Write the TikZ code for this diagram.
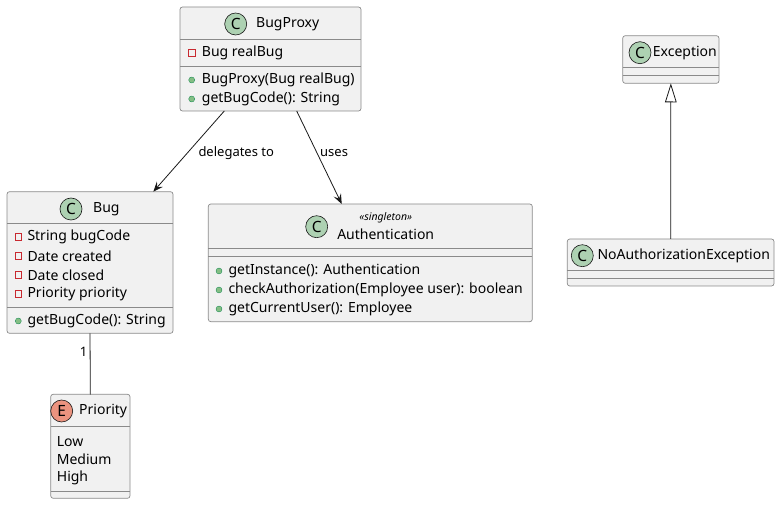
\documentclass[tikz,border=0pt]{standalone}
\usepackage{fontspec}
\setmainfont{Noto Sans}
\usetikzlibrary{arrows.meta}
\definecolor{boxfill}{HTML}{F1F1F1}
\definecolor{boxline}{HTML}{181818}
\definecolor{sepgray}{HTML}{8A8A8A}
\definecolor{classicon}{HTML}{ADD1B2}
\definecolor{enumicon}{HTML}{EB937F}
\definecolor{privred}{HTML}{C82930}
\definecolor{pubgreen}{HTML}{84BE84}
\definecolor{publine}{HTML}{038048}
\tikzset{
	classbox/.style={draw=sepgray, fill=boxfill, line width=0.7pt, rounded corners=2.5pt, inner sep=0pt, outer sep=0pt},
	icon/.style={circle, draw=boxline, line width=0.6pt, minimum size=22pt, inner sep=0pt, font=\bfseries\fontsize{15.5}{15.5}\selectfont},
	title/.style={inner sep=0pt, font=\fontsize{14}{16}\selectfont},
	member/.style={anchor=west, inner sep=0pt, font=\fontsize{14}{16}\selectfont},
	privmark/.style={rectangle, draw=privred, line width=0.6pt, minimum size=6.5pt, inner sep=0pt},
	pubmark/.style={circle, draw=publine, fill=pubgreen, line width=0.3pt, minimum size=6pt, inner sep=0pt},
	edgelabel/.style={inner sep=0pt, font=\fontsize{13}{15}\selectfont},
	link/.style={draw=boxline, line width=0.8pt}
}
\newcommand*{\classBox}[5]{ %name; left, top, right, bottom
	\node[classbox, minimum width={#4-#2}, minimum height={#5-#3}] (#1) at ({(#2+#4)/2},{(#3+#5)/2}) {};
}
\newcommand*{\sepLine}[2]{ %box, y
	\draw[sepgray, line width=0.7pt] (#1.west |- 0,#2) -- (#1.east |- 0,#2);
}

\begin{document}
\begin{tikzpicture}[x=1pt,y=-1pt]
		\useasboundingbox (0,0) rectangle (780,505);
		
		% the boxes
		\classBox{bugproxy}{180}{7}{361}{111}
		\classBox{bug}{7}{191.7}{173}{333.3}
		\classBox{priority}{50.7}{394.3}{130}{498.3}
		\classBox{auth}{208.3}{204}{532.3}{321.7}
		\classBox{exception}{622.7}{35.7}{719}{83.3}
		\classBox{noauth}{567.3}{239}{774}{286}
		
		\sepLine{bugproxy}{39} \sepLine{bugproxy}{66}
		\sepLine{bug}{223.3} \sepLine{bug}{307.3}
		\sepLine{priority}{426.7} \sepLine{priority}{491}
		\sepLine{auth}{248.3} \sepLine{auth}{256}
		\sepLine{exception}{67.3} \sepLine{exception}{75}
		\sepLine{noauth}{270.7} \sepLine{noauth}{278.3}
		
		% headers
		\node[icon, fill=classicon] (bugproxyicon) at (235.7,24) {C};
		\node[title, anchor=west] (bugproxytitle) at (256,24) {BugProxy};
		\node[icon, fill=classicon] (bugicon) at (71,209) {C};
		\node[title, anchor=west] (bugtitle) at (93,209) {Bug};
		\node[icon, fill=enumicon] (priorityicon) at (61.7,411) {E};
		\node[title, anchor=west] (prioritytitle) at (79,411) {Priority};
		\node[icon, fill=classicon] (authicon) at (316.7,226.7) {C};
		\node[title, font=\itshape\fontsize{10.5}{12}\selectfont] (authstereo) at (385.7,217.7) {«singleton»};
		\node[title] (authtitle) at (385.7,234.3) {Authentication};
		\node[icon, fill=classicon] (exceptionicon) at (640,52.7) {C};
		\node[title, anchor=west] (exceptiontitle) at (652.7,52.7) {Exception};
		\node[icon, fill=classicon] (noauthicon) at (582.3,255.7) {C};
		\node[title, anchor=west] (noauthtitle) at (597.3,255.7) {NoAuthorizationException};
		
		% members
		\node[privmark] (bugproxyp1) at (191.7,52.7) {};
		\node[member] (bugproxym1) at (201.7,52.7) {Bug realBug};
		\foreach \n/\y/\texto in {2/80/{BugProxy(Bug realBug)},3/99/{getBugCode(): String}}
		{
			\node[pubmark] (bugproxyp\n) at (191.7,\y) {};
			\node[member] (bugproxym\n) at (201.7,\y) {\texto};
		}
		\foreach \n/\y/\texto in {1/236.7/{String bugCode},2/256/{Date created},3/275/{Date closed},4/294/{Priority priority}}
		{
			\node[privmark] (bugp\n) at (18.3,\y) {};
			\node[member] (bugm\n) at (27.3,\y) {\texto};
		}
		\node[pubmark] (bugp5) at (18.3,321) {};
		\node[member] (bugm5) at (27.3,321) {getBugCode(): String};
		\foreach \n/\y/\texto in {1/271/{getInstance(): Authentication},2/290/{checkAuthorization(Employee user): boolean},3/309/{getCurrentUser(): Employee}}
		{
			\node[pubmark] (authp\n) at (219,\y) {};
			\node[member] (authm\n) at (228.3,\y) {\texto};
		}
		\foreach \n/\y/\texto in {1/441.7/Low,2/459.3/Medium,3/478.3/High}
		{
			\node[member] (prioritym\n) at (56.7,\y) {\texto};
		}
		
		% connectors
		\draw[link, -{Stealth[length=10pt,width=8pt,inset=4pt]}] ([xshift=-46.2]bugproxy.south) -- ([xshift=63.3]bug.north);
		\draw[link, -{Stealth[length=10pt,width=8pt,inset=4pt]}] ([xshift=26.2]bugproxy.south) -- ([xshift=-28.6]auth.north);
		\node[edgelabel, anchor=west] (delegateslabel) at (198.3,152.7) {delegates to};
		\node[edgelabel, anchor=west] (useslabel) at (320,152.7) {uses};
		\draw[link] (bug.south) -- node[edgelabel, pos=0.3, left, inner sep=2.5pt] (onelabel) {1} (priority.north);
		\draw[link, -{Triangle[open, length=19pt, width=11.6pt]}] (noauth.north) -- (exception.south);
		
	\end{tikzpicture}
\end{document}
